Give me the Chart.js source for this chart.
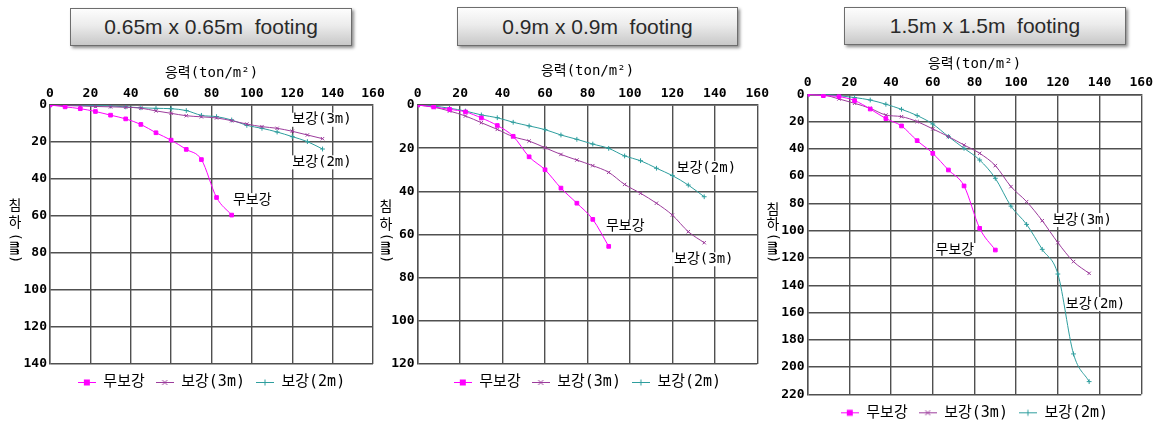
<!DOCTYPE html>
<html>
<head>
<meta charset="utf-8">
<script src="https://cdn.jsdelivr.net/npm/chart.js@4.4.0/dist/chart.umd.min.js"></script>
<style>
body { margin: 0; width: 1157px; height: 423px; overflow: hidden; background: #fff; position: relative; }
canvas { position: absolute; top: 0; }
.ttl {
	position: absolute; box-sizing: border-box; border: 1px solid #6d6d6d;
	background: linear-gradient(#fdfdfd, #ececec 45%, #c8c8c8);
	box-shadow: 2px 2px 3px rgba(0,0,0,.45);
	font-family: "Liberation Sans", Arial, sans-serif; font-size: 21px; color: #2a2a2a;
	white-space: pre; display: flex; align-items: center; justify-content: center;
}
</style>
</head>
<body>
<div class="ttl" style="left:70px;top:8px;width:282px;height:38px">0.65m x 0.65m  footing</div>
<div class="ttl" style="left:457px;top:7px;width:281px;height:39px">0.9m x 0.9m  footing</div>
<div class="ttl" style="left:844px;top:7px;width:282px;height:38px">1.5m x 1.5m  footing</div>
<canvas id="c1" width="390" height="423" style="left:0px"></canvas>
<canvas id="c2" width="395" height="423" style="left:378px"></canvas>
<canvas id="c3" width="392" height="440" style="left:765px"></canvas>
<script>
// 응력 (ton/m2) 값
const stressPlain = [0, 7.5, 15, 22.5, 30, 37.5, 45, 52.5, 60, 67.5, 75, 82.5, 90];
const stressReinf = [0, 7.5, 15, 22.5, 30, 37.5, 45, 52.5, 60, 67.5, 75, 82.5, 90, 97.5, 105, 112.5, 120, 127.5, 135];

// 침하 (mm) - 0.65m x 0.65m
const plain065 = [0, 1, 2, 3.5, 5.5, 7.5, 10.5, 15, 19, 24, 29.5, 50, 59.5];
const r3m065 = [0, 0.3, 0.5, 0.8, 1, 1.2, 1.7, 3.2, 4.5, 5.8, 6.4, 7, 8.5, 10.3, 11.7, 12.6, 14.2, 16.2, 18.2];
const r2m065 = [0, 0, 0.3, 0.3, 0.5, 1, 1.5, 1.8, 2, 3, 5.6, 6.3, 8.1, 11, 12.6, 14.6, 17.1, 19.8, 23.8];

// 0.9m x 0.9m
const plain09 = [0, 0.9, 2, 3.2, 6, 9.5, 14.5, 24, 30, 38.5, 45.5, 53, 65.5];
const r3m09 = [0, 1, 2.8, 5.1, 8.2, 11.3, 14.7, 16.7, 19.8, 22.9, 25.5, 28.1, 31.2, 36.8, 40.9, 45.5, 51, 58.7, 63.8];
const r2m09 = [0, 0.5, 1.5, 2.8, 4.6, 5.9, 8, 9.7, 11.4, 13.9, 15.9, 18.1, 20.1, 23.6, 25.8, 29.3, 32.7, 37.1, 42.5];

// 1.5m x 1.5m
const plain15 = [0, 1, 1.7, 4.6, 10.8, 17.8, 23.2, 34, 43.3, 55.5, 67.2, 98.3, 114.2];
const r3m15 = [0, 0.5, 3.4, 6.6, 10.3, 15.2, 16.4, 20, 25.4, 31, 37.2, 43.3, 52.3, 67.7, 78.7, 92.7, 108.8, 122.7, 131.3];
const r2m15 = [0, 0, 1, 2.4, 4.2, 7.3, 11, 15.6, 21.8, 31, 39.6, 48.2, 61.6, 82, 95.4, 113.7, 131.8, 190.4, 210.7];

const seriesNames = ['무보강', '보강(3m)', '보강(2m)'];
const xTicksMax = 160;

const KR = '"DejaVu Sans Mono", "Noto Sans CJK KR", sans-serif';
const colors = ['#ff00ff', '#9c3c9c', '#2e9e9e'];
const styles = ['rect', 'crossRot', 'cross'];
const gridColor = '#505050';

function pts(xs, ys) {
	return ys.map((v, i) => ({x: xs[i], y: v}));
}

function legendIcon(color, style) {
	let c = document.createElement('canvas');
	c.width = 18; c.height = 9;
	let g = c.getContext('2d');
	g.strokeStyle = color; g.fillStyle = color; g.lineWidth = 1;
	g.beginPath(); g.moveTo(0, 4.5); g.lineTo(18, 4.5); g.stroke();
	if (style === 'rect') g.fillRect(6, 1.5, 6, 6);
	else if (style === 'crossRot') {
		g.beginPath(); g.moveTo(6.5, 2); g.lineTo(11.5, 7); g.moveTo(11.5, 2); g.lineTo(6.5, 7); g.stroke();
	} else {
		g.beginPath(); g.moveTo(9, 1.5); g.lineTo(9, 7.5); g.stroke();
	}
	return c;
}
const icons = colors.map((c, i) => legendIcon(c, styles[i]));

const notesPlugin = {
	id: 'notes',
	beforeDatasetsDraw(chart, args, opts) {
		const {ctx, scales: {x, y}} = chart;
		ctx.save();
		ctx.font = '14px ' + KR;
		ctx.textBaseline = 'middle';
		ctx.textAlign = 'left';
		opts.items.forEach(n => {
			let px = x.getPixelForValue(n.x), py = y.getPixelForValue(n.y);
			let w = ctx.measureText(n.text).width;
			ctx.fillStyle = '#fff';
			ctx.fillRect(px - 2, py - 7, w + 4, 14);
			ctx.fillStyle = '#000';
			ctx.fillText(n.text, px, py);
		});
		ctx.restore();
	},
	afterDraw(chart, args, opts) {
		const ctx = chart.ctx;
		const xc = opts.yTitleX;
		ctx.save();
		ctx.font = '14px ' + KR;
		ctx.fillStyle = '#000';
		ctx.textAlign = 'center';
		ctx.textBaseline = 'middle';
		ctx.fillText('침', xc, opts.yTitleY[0]);
		ctx.fillText('하', xc, opts.yTitleY[1]);
		ctx.translate(xc, opts.yTitleY[2]);
		ctx.rotate(Math.PI / 2);
		ctx.fillText('(㎜)', 0, 0);
		ctx.restore();
	}
};

function makeChart(id, p) {
	const font = {family: KR, size: 13, weight: 'bold'};
	new Chart(document.getElementById(id), {
		type: 'line',
		data: {
			datasets: [
				{label: seriesNames[0], data: pts(stressPlain, p.plain)},
				{label: seriesNames[1], data: pts(stressReinf, p.r3)},
				{label: seriesNames[2], data: pts(stressReinf, p.r2)}
			].map((d, i) => Object.assign(d, {
				borderColor: colors[i],
				backgroundColor: colors[i],
				borderWidth: 1,
				pointStyle: styles[i],
				pointRadius: i === 0 ? 2.6 : 2.4,
				pointBorderWidth: 1,
				cubicInterpolationMode: 'monotone',
				fill: false
			}))
		},
		options: {
			responsive: false,
			animation: false,
			layout: {padding: p.pad},
			scales: {
				x: {
					type: 'linear', position: 'top', min: 0, max: xTicksMax,
					ticks: {stepSize: 20, color: '#000', font: font, padding: 4},
					grid: {color: gridColor, lineWidth: 1.4, drawTicks: false},
					border: {color: gridColor, width: 1.4},
					title: {display: true, text: '응력(ton/m²)', color: '#000', font: {family: KR, size: 14}, padding: 0},
					afterFit(s) { s.height = p.xh; }
				},
				y: {
					type: 'linear', reverse: true, min: 0, max: p.ymax,
					ticks: {stepSize: 20, color: '#000', font: font, padding: 3},
					grid: {color: gridColor, lineWidth: 1.4, drawTicks: false},
					border: {color: gridColor, width: 1.4},
					afterFit(s) { s.width = p.yw; }
				}
			},
			plugins: {
				tooltip: {enabled: false},
				legend: {
					position: 'bottom',
					fullSize: false,
					labels: {
						usePointStyle: true,
						pointStyleWidth: 18,
						padding: 11,
						color: '#000',
						font: {family: KR, size: 15},
						generateLabels: (chart) => chart.data.datasets.map((ds, i) => ({
							text: ds.label, pointStyle: icons[i], fillStyle: colors[i],
							strokeStyle: colors[i], lineWidth: 0, datasetIndex: i, fontColor: '#000'
						}))
					}
				},
				notes: {items: p.notes, yTitleX: p.ytx, yTitleY: p.yty}
			}
		},
		plugins: [notesPlugin]
	});
}

makeChart('c1', {
	plain: plain065, r3: r3m065, r2: r2m065, ymax: 140,
	pad: {left: 0, right: 17, top: 65, bottom: 23}, xh: 40, yw: 50,
	ytx: 15, yty: [206, 223, 248],
	notes: [
		{text: '보강(3m)', x: 120, y: 8},
		{text: '보강(2m)', x: 120, y: 31},
		{text: '무보강', x: 90.6, y: 51.4}
	]
});
makeChart('c2', {
	plain: plain09, r3: r3m09, r2: r2m09, ymax: 120,
	pad: {left: 0, right: 14.7, top: 63, bottom: 23}, xh: 42, yw: 39.7,
	ytx: 8, yty: [207, 225, 248],
	notes: [
		{text: '보강(2m)', x: 122, y: 29.2},
		{text: '무보강', x: 88.7, y: 56.4},
		{text: '보강(3m)', x: 120.8, y: 71.5}
	]
});
makeChart('c3', {
	plain: plain15, r3: r3m15, r2: r2m15, ymax: 220,
	pad: {left: 0, right: 14.7, top: 56, bottom: 9.7}, xh: 38.3, yw: 42.7,
	ytx: 8, yty: [210, 225, 248],
	notes: [
		{text: '보강(3m)', x: 117.4, y: 92.2},
		{text: '무보강', x: 61.3, y: 114.2},
		{text: '보강(2m)', x: 123.8, y: 153.8}
	]
});
</script>
</body>
</html>
